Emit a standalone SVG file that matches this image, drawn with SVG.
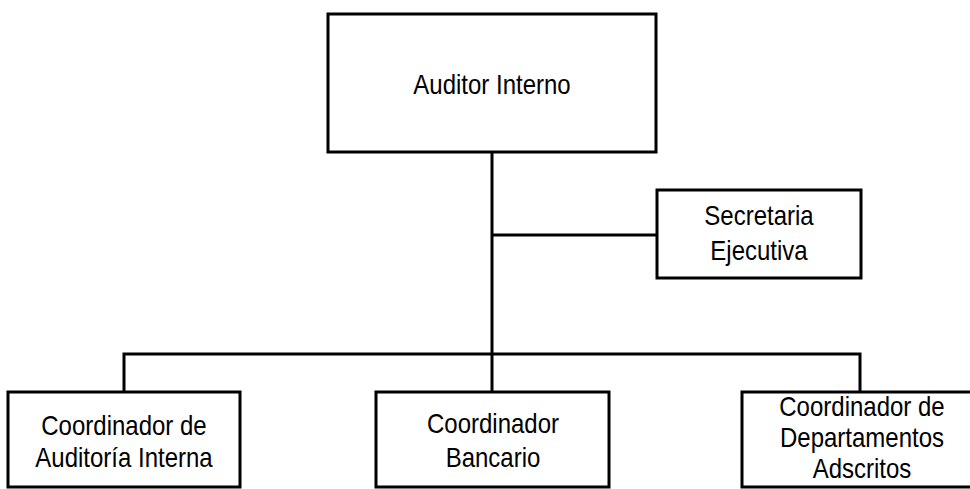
<svg xmlns="http://www.w3.org/2000/svg" width="970" height="489" viewBox="0 0 970 489">
<style>
.box{fill:#fff;stroke:#000;stroke-width:3}
.ln{fill:none;stroke:#000;stroke-width:3}
.t{font-family:"Liberation Sans",Arial,sans-serif;font-size:24px;fill:#000;text-anchor:middle}
</style>
<rect width="970" height="489" fill="#fff"/>
<g id="connectors">
<path class="ln" d="M492 152 V354"/>
<path class="ln" d="M492 235 H657"/>
<path class="ln" d="M124 392 V354 H860 V392"/>
<path class="ln" d="M492 354 V392"/>
</g>
<g id="auditor">
<rect class="box" x="328" y="14" width="328" height="138"/>
<text class="t" transform="translate(492,94) scale(1,1.15)">Auditor Interno</text>
</g>
<g id="secretaria">
<rect class="box" x="657" y="190" width="204" height="88"/>
<text class="t" transform="translate(759,225) scale(1,1.15)">Secretaria</text>
<text class="t" transform="translate(759,260) scale(1,1.15)">Ejecutiva</text>
</g>
<g id="coord-auditoria">
<rect class="box" x="8" y="392" width="232" height="95"/>
<text class="t" transform="translate(124,435) scale(1,1.15)">Coordinador de</text>
<text class="t" transform="translate(124,467) scale(1,1.15)">Auditoría Interna</text>
</g>
<g id="coord-bancario">
<rect class="box" x="376" y="392" width="233" height="95"/>
<text class="t" transform="translate(493,433) scale(1,1.15)">Coordinador</text>
<text class="t" transform="translate(493,467) scale(1,1.15)">Bancario</text>
</g>
<g id="coord-departamentos">
<rect class="box" x="742" y="392" width="240" height="95"/>
<text class="t" transform="translate(862,416) scale(1,1.15)">Coordinador de</text>
<text class="t" transform="translate(862,447) scale(1,1.15)">Departamentos</text>
<text class="t" transform="translate(862,478) scale(1,1.15)">Adscritos</text>
</g>
</svg>
